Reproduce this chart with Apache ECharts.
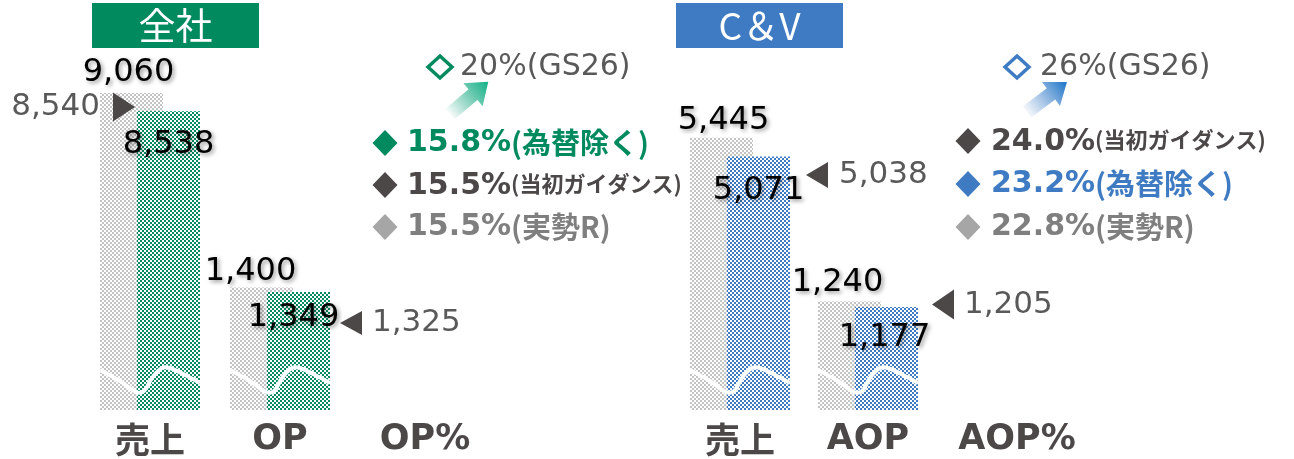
<!DOCTYPE html>
<html>
<head>
<meta charset="utf-8">
<script src="https://cdn.jsdelivr.net/npm/echarts@6/dist/echarts.min.js"></script>
<style>
  html, body { margin: 0; padding: 0; background: #fff; }
  #main { width: 1294px; height: 459px; }
</style>
</head>
<body>
<div id="main"></div>
<script>
// data
const groupNames = ['全社', 'C＆V'];
const categories = ['売上', 'OP', 'OP%', '売上', 'AOP', 'AOP%'];
const planValues = [9060, 1400, 5445, 1240];      // grey bars
const resultValues = [8538, 1349, 5071, 1177];    // coloured bars
const markerValues = [8540, 1325, 5038, 1205];    // ◀ / ▶ markers
const targetTexts = ['20%(GS26)', '26%(GS26)'];
const leftPctValues = ['15.8%', '15.5%', '15.5%'];
const leftPctNotes = ['(為替除く)', '(当初ガイダンス)', '(実勢R)'];
const rightPctValues = ['24.0%', '23.2%', '22.8%'];
const rightPctNotes = ['(当初ガイダンス)', '(為替除く)', '(実勢R)'];

const GREEN = '#008a5e';
const BLUE = '#3e7bc3';
const DARK = '#4d4848';
const MID = '#595959';
const LIGHT = '#a6a6a6';
const LIGHT_TXT = '#7f7f7f';
const LATIN = "'DejaVu Sans', 'Noto Sans CJK JP', sans-serif";
const CJK = "'Noto Sans CJK JP', 'DejaVu Sans', sans-serif";

function checker(color, s) {
  const c = document.createElement('canvas');
  c.width = c.height = s * 2;
  const ctx = c.getContext('2d');
  ctx.fillStyle = '#fff';
  ctx.fillRect(0, 0, s * 2, s * 2);
  ctx.fillStyle = color;
  ctx.fillRect(0, 0, s, s);
  ctx.fillRect(s, s, s, s);
  return { image: c, repeat: 'repeat' };
}
const greyPat = checker('#c4c4c4', 2);
const greenPat = checker(GREEN, 2);
const bluePat = checker(BLUE, 2);

const fmt = (v) => v.toLocaleString('en-US');

// layout of each bar pair: grid left, y max, colour, label tweaks
const pairs = [
  { left: 100, max: 10000, pat: greenPat, cat: 0,
    planOff: [-3, 0], planDist: 4, resOff: [0, 0], resDist: 18,
    mk: { sym: 'path://M0,0 L10,6 L0,12 Z', size: [22, 29], off: [-26, -4], pos: 'left', dist: 13 } },
  { left: 230, max: 4000, pat: greenPat, cat: 1,
    planOff: [-11, 0], planDist: 0, resOff: [-5, 0], resDist: 10,
    mk: { sym: 'path://M10,0 L0,6 L10,12 Z', size: [22, 24], off: [71, 29], pos: 'right', dist: 10 } },
  { left: 690, max: 7000, pat: bluePat, cat: 3,
    planOff: [2, 0], planDist: 1, resOff: [0, 0], resDist: 18,
    mk: { sym: 'path://M10,0 L0,6 L10,12 Z', size: [22, 26], off: [77, 17], pos: 'right', dist: 11 } },
  { left: 818, max: 4000, pat: bluePat, cat: 4,
    planOff: [-12, 0], planDist: 3, resOff: [-2, 0], resDist: 15,
    mk: { sym: 'path://M10,0 L0,6 L10,12 Z', size: [22, 30], off: [75, 0], pos: 'right', dist: 10 } }
];
// grids only carrying the % category label
const labelOnly = [{ left: 375, cat: 2 }, { left: 967, cat: 5 }];

const TOP = 60, BOTTOM = 49;
const grid = [], xAxis = [], yAxis = [], series = [];
const valShadow = {
  textShadowColor: 'rgba(0,0,0,0.4)', textShadowBlur: 4,
  textShadowOffsetX: 2, textShadowOffsetY: 2
};
const axisLabelStyle = {
  fontSize: 35, fontWeight: 'bold', color: DARK, fontFamily: LATIN, margin: 12
};

pairs.concat(labelOnly).forEach((p, i) => {
  grid.push({ left: p.left, width: 100, top: TOP, bottom: BOTTOM });
  xAxis.push({
    type: 'category', gridIndex: i, data: [categories[p.cat]],
    axisLine: { show: false }, axisTick: { show: false },
    axisLabel: Object.assign({}, axisLabelStyle,
      { fontFamily: /[A-Z]/.test(categories[p.cat]) ? LATIN : CJK })
  });
  yAxis.push({
    type: 'value', gridIndex: i, min: 0, max: p.max || 100, show: false,
    splitLine: { show: false }
  });
});

pairs.forEach((p, i) => {
  const k = i;
  series.push({
    type: 'bar', xAxisIndex: k, yAxisIndex: k, barWidth: 63, barGap: '-41.3%',
    data: [planValues[i]], itemStyle: { color: greyPat }, silent: true,
    label: Object.assign({
      show: true, position: 'top', distance: p.planDist, offset: p.planOff,
      fontSize: 32, color: '#000', fontFamily: LATIN, formatter: (d) => fmt(d.value)
    }, valShadow)
  });
  series.push({
    type: 'bar', xAxisIndex: k, yAxisIndex: k, barWidth: 63, barGap: '-41.3%',
    data: [resultValues[i]], itemStyle: { color: p.pat }, silent: true,
    label: Object.assign({
      show: true, position: 'insideTop', distance: p.resDist, offset: p.resOff,
      fontSize: 32, color: '#000', fontFamily: LATIN, formatter: (d) => fmt(d.value)
    }, valShadow)
  });
  series.push({
    type: 'scatter', xAxisIndex: k, yAxisIndex: k, z: 5,
    data: [[0, markerValues[i]]],
    symbol: p.mk.sym, symbolSize: p.mk.size, symbolOffset: p.mk.off,
    itemStyle: { color: DARK, opacity: 1 }, silent: true,
    label: {
      show: true, position: p.mk.pos, distance: p.mk.dist,
      fontSize: 31, color: MID, fontFamily: LATIN,
      formatter: (d) => fmt(d.value[1])
    }
  });
});

// decoration
const graphic = [];
// headers
[[92, GREEN, 0], [676, BLUE, 1]].forEach(([x, c, gi]) => {
  graphic.push({
    type: 'rect', shape: { x: x, y: 3, width: 167, height: 45 },
    style: { fill: c }, z: 10
  });
  graphic.push({
    type: 'text', x: x + 83.5, y: 26, z: 11,
    style: {
      text: groupNames[gi], fill: '#fff', fontSize: 37, fontFamily: CJK,
      align: 'center', verticalAlign: 'middle'
    }
  });
});
// axis-break waves across each bar pair
pairs.forEach((p) => {
  const b = 459 - BOTTOM, x = p.left;
  const pts = [[0, -40], [20, -29], [36, -18], [44, -19], [52, -32], [62, -42], [70, -42], [85, -35], [100, -27]]
    .map(([dx, dy]) => [x + dx, b + dy]);
  graphic.push({
    type: 'polyline', z: 20, shape: { points: pts, smooth: 0.4 },
    style: { stroke: '#fff', lineWidth: 4, fill: null }
  });
});
function diamond(cx, cy, w, h, color, hollow) {
  return {
    type: 'polygon', z: 10,
    shape: { points: [[cx, cy - h], [cx + w, cy], [cx, cy + h], [cx - w, cy]] },
    style: hollow ? { fill: null, stroke: color, lineWidth: 3.5 } : { fill: color }
  };
}
function arrow(x, y, rot, from, to) {
  return {
    type: 'polygon', z: 10, x: x, y: y, rotation: rot * Math.PI / 180,
    shape: { points: [[0, -7], [30, -7], [30, -15], [50, 0], [30, 15], [30, 7], [0, 7]] },
    style: {
      fill: new echarts.graphic.LinearGradient(0, 0, 1, 0, [
        { offset: 0, color: from }, { offset: 1, color: to }
      ])
    }
  };
}
// target lines
graphic.push(diamond(440, 67, 12, 11, GREEN, true));
graphic.push(diamond(1017, 67, 12, 11, BLUE, true));
graphic.push({
  type: 'text', x: 460, y: 67, z: 10,
  style: { text: targetTexts[0], fill: MID, fontSize: 30, fontFamily: LATIN, verticalAlign: 'middle' }
});
graphic.push({
  type: 'text', x: 1040, y: 67, z: 10,
  style: { text: targetTexts[1], fill: MID, fontSize: 30, fontFamily: LATIN, verticalAlign: 'middle' }
});
graphic.push(arrow(450, 114, 40, 'rgba(0,150,110,0.03)', '#12b287'));
graphic.push(arrow(1027, 112, 37, 'rgba(62,123,195,0.06)', '#1a73c8'));

// percentage rows
function pctRow(dx, tx, y, val, note, diaColor, txtColor, small) {
  graphic.push(diamond(dx, y, 12.5, 13, diaColor, false));
  graphic.push({
    type: 'text', x: tx, y: y, z: 10,
    style: {
      text: '{v|' + val + '}{n|' + note + '}', verticalAlign: 'middle', fill: txtColor,
      rich: {
        v: { fontSize: 30, fontWeight: 'bold', fontFamily: LATIN, fill: txtColor, height: 36, verticalAlign: 'bottom' },
        n: {
          fontSize: small ? 22 : 29, fontWeight: 'bold', fontFamily: CJK, fill: txtColor,
          height: 36, verticalAlign: 'bottom', padding: small ? [0, 0, 2, 0] : 0
        }
      }
    }
  });
}
const leftColors = [[GREEN, GREEN], [DARK, DARK], [LIGHT, LIGHT_TXT]];
const rightColors = [[DARK, DARK], [BLUE, BLUE], [LIGHT, LIGHT_TXT]];
[143, 185, 227].forEach((y, i) => {
  pctRow(385, 407, y, leftPctValues[i], leftPctNotes[i], leftColors[i][0], leftColors[i][1],
    leftPctNotes[i].length > 6);
});
[141, 184, 227].forEach((y, i) => {
  pctRow(968, 991, y, rightPctValues[i], rightPctNotes[i], rightColors[i][0], rightColors[i][1],
    rightPctNotes[i].length > 6);
});

const chart = echarts.init(document.getElementById('main'), null, { renderer: 'canvas' });
chart.setOption({
  animation: false,
  backgroundColor: '#fff',
  grid, xAxis, yAxis, series, graphic
});
</script>
</body>
</html>
